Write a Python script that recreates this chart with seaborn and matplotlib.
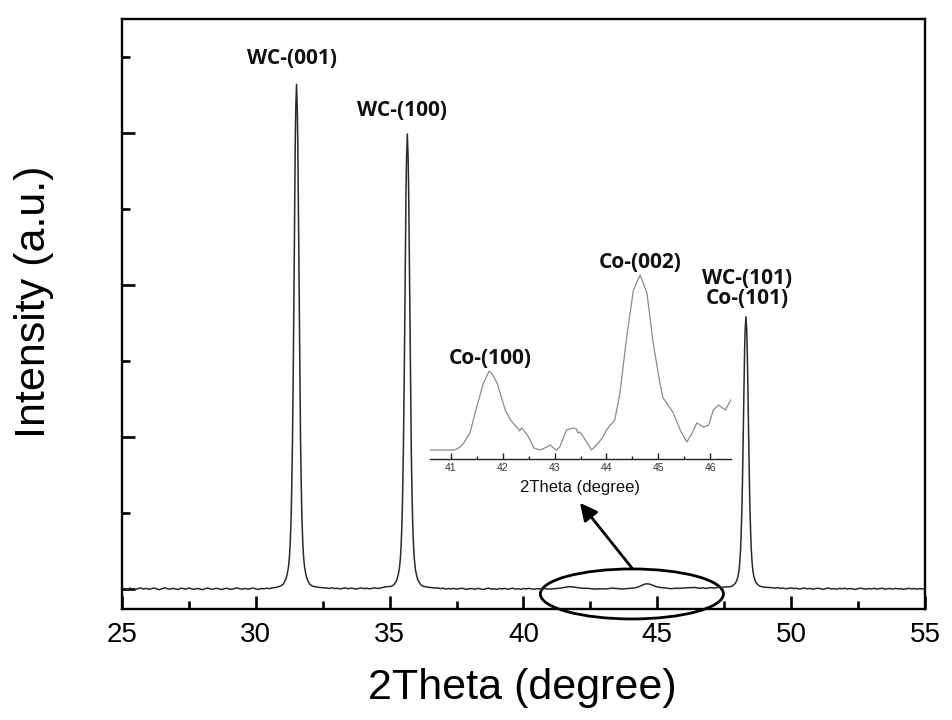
"""XRD pattern of a WC-Co sample with an inset zoom on the Co peaks."""
import numpy as np
import pandas as pd
import matplotlib
matplotlib.use("Agg")
import matplotlib.pyplot as plt
from matplotlib.patches import Ellipse
import seaborn as sns

# --- main scan (2theta in degree, intensity in a.u.) ---
base_a = [-6, 3, -2, 5, 0, -4, 2, 7, -1, 4, -3, 1, 6, 0, -5, 2, 8, 1, -2, 4,
          0, -4, 5, 2, -1, 7, 1, -3, 3, 0, -5, 1, 6, 0, -2, 4, 2, -4, 0, 5,
          -1, -3, 3, 7, 1, -2, 4, -2, 2, 6, 0, -3, 3, 1, 5, 2, 6, 9, 12]
peak1_x = [30.90, 31.02, 31.12, 31.17, 31.22, 31.26, 31.29, 31.32, 31.34, 31.37,
           31.39, 31.42, 31.44, 31.47, 31.49, 31.52, 31.55, 31.57, 31.60, 31.62,
           31.65, 31.67, 31.70, 31.72, 31.75, 31.78, 31.82, 31.87, 31.92, 32.02,
           32.12, 32.30, 32.50]
peak1_y = [18, 30, 62, 95, 145, 220, 322, 480, 650, 980,
           1300, 1850, 2300, 2900, 3150, 3320, 3150, 2900, 2300, 1850,
           1300, 980, 650, 480, 322, 220, 145, 95, 62, 30,
           18, 12, 8]
base_b = [6, 3, 8, 2, 5, 0, 4, 7, 1, 5, 3, -1, 4, 6, 2, 5, 1, 4, 7, 3, 6, 10, 14]
peak2_x = [35.06, 35.16, 35.26, 35.31, 35.36, 35.40, 35.43, 35.46, 35.48, 35.51,
           35.53, 35.56, 35.58, 35.61, 35.63, 35.66, 35.69, 35.71, 35.74, 35.76,
           35.79, 35.81, 35.84, 35.86, 35.89, 35.92, 35.96, 36.01, 36.06, 36.16,
           36.26, 36.45, 36.65]
peak2_y = [17, 28, 56, 86, 130, 200, 290, 435, 585, 885,
           1170, 1670, 2075, 2615, 2840, 2993, 2840, 2615, 2075, 1670,
           1170, 885, 585, 435, 290, 200, 130, 86, 56, 28,
           17, 11, 7]
base_c = [6, 2, 5, -1, 3, 0, 4, -2, 2, 5, 0, -3, 3, 1, -2, 4, 0, -4, 2, 5,
          -1, 1, -3, 3, 0, 4, -2, 1, 5, -1, 2, -3, 3, 0, 4, 1, -2, 2,
          1, -2, 2, 0, -1, 1, 2, 4, 6, 9, 12, 15, 14, 12, 9, 7, 5, 4, 4, 2,
          0, -1, 1, 0, 1, 0, 3, 5, 4, 3, 1, -1, 1, 3, 4, 6, 9, 14, 22, 30,
          34, 32, 26, 19, 13, 10, 8, 7, 4, 2, 3, 5, 4, 5, 6, 8, 8, 9, 10,
          7, 4, 8, 3, 6, 9, 5, 8, 11, 9, 13]
peak3_x = [47.71, 47.81, 47.91, 47.96, 48.01, 48.05, 48.08, 48.11, 48.13, 48.16,
           48.18, 48.21, 48.23, 48.26, 48.28, 48.31, 48.34, 48.36, 48.39, 48.41,
           48.44, 48.46, 48.49, 48.51, 48.54, 48.57, 48.61, 48.66, 48.71, 48.81,
           48.91, 49.10]
peak3_y = [14, 20, 36, 52, 80, 120, 175, 260, 350, 530,
           700, 1000, 1240, 1565, 1700, 1791, 1700, 1565, 1240, 1000,
           700, 530, 350, 260, 175, 120, 80, 52, 36, 20,
           14, 10]
base_d = [8, 5, 9, 3, 6, 1, 4, 7, 2, 5, -1, 3, 6, 0, 4, -2, 2, 5, 1, -3,
          3, 6, 0, 2, -2, 4, 1, 5, -1, 3, 0, -3, 2, 5, 1, -2, 3, 0, 4, -1,
          2, 5, -2, 1, 3, -1, 4, 0, 2, -3, 1, 4, 0, 3, -2, 2, 0, 3]

# --- inset, Co region enlarged ---
inset_x = [40.60, 40.80, 41.00, 41.08, 41.18, 41.25, 41.37, 41.50, 41.63, 41.74,
           41.80, 41.86, 41.90, 41.95, 42.05, 42.15, 42.27, 42.33, 42.36, 42.40,
           42.50, 42.60, 42.72, 42.85, 42.92, 42.98, 43.04, 43.10, 43.23, 43.36,
           43.42, 43.45, 43.49, 43.62, 43.71, 43.81, 43.92, 44.00, 44.16, 44.26,
           44.39, 44.52, 44.65, 44.78, 44.90, 45.03, 45.09, 45.12, 45.16, 45.29,
           45.42, 45.55, 45.65, 45.74, 45.87, 45.97, 46.06, 46.16, 46.29, 46.42]
inset_y = [0, 0, 0, 0, 3, 7, 17, 43, 67, 79,
           76, 70, 66, 57, 40, 30, 23, 19, 22, 20,
           13, 2, 0, 3, 5, 2, 0, 3, 20, 22,
           21, 17, 18, 8, 0, 5, 12, 20, 30, 57,
           113, 160, 175, 157, 107, 67, 52, 50, 47, 37,
           20, 8, 17, 27, 23, 25, 40, 45, 40, 52]

peak_labels = ["WC-(001)", "WC-(100)", "WC-(101)\nCo-(101)"]
peak_label_pos = [(31.35, 3493), (35.46, 3145), (48.35, 1977)]
inset_labels = ["Co-(100)", "Co-(002)"]
inset_label_pos = [(41.76, 92), (44.65, 187)]

scan = pd.DataFrame({
    "two_theta": np.concatenate([
        np.linspace(25.0, 30.8, len(base_a)), peak1_x,
        np.linspace(32.65, 34.85, len(base_b)), peak2_x,
        np.linspace(36.8, 47.5, len(base_c)), peak3_x,
        np.linspace(49.3, 55.0, len(base_d))]),
    "intensity": np.concatenate([base_a, peak1_y, base_b, peak2_y,
                                 base_c, peak3_y, base_d]),
})
inset = pd.DataFrame({"two_theta": inset_x, "intensity": inset_y})

sns.set_style("white")
plt.rcParams["font.family"] = ["Liberation Sans", "DejaVu Sans"]
plt.rcParams["text.color"] = "black"
plt.rcParams["axes.labelcolor"] = "black"

W, H = 952, 720
fig = plt.figure(figsize=(W / 100, H / 100), dpi=100)
ax = fig.add_axes([122 / W, (H - 609) / H, (925 - 122) / W, (609 - 19) / H])

sns.lineplot(data=scan, x="two_theta", y="intensity", ax=ax, color="#2a2a2a",
             linewidth=1.1, estimator=None, sort=False)
ax.set_xlim(25, 55)
ax.set_ylim(-132, 3750)
ax.set_xticks(np.arange(25, 56, 5))
ax.set_xticks(np.arange(27.5, 55, 5), minor=True)
ax.set_yticks(np.arange(0, 3001, 1000))
ax.set_yticks(np.arange(500, 3600, 1000), minor=True)
ax.set_yticklabels([])
ax.tick_params(which="both", direction="in", width=1.9, color="black",
               bottom=True, left=True, top=False, right=False,
               labelcolor="black")
ax.tick_params(which="major", length=9.5, labelsize=20, pad=9)
ax.tick_params(which="minor", length=5.5)
for sp in ax.spines.values():
    sp.set_color("black")
    sp.set_linewidth(1.7)

ax.set_xlabel("2Theta (degree)", fontsize=31)
ax.set_ylabel("Intensity (a.u.)", fontsize=31)
ax.xaxis.set_label_coords(0.498, -0.1)
ax.yaxis.set_label_coords(-0.085, 0.521)

bold = dict(family=["Open Sans", "DejaVu Sans"], weight="bold", fontsize=15,
            ha="center", va="center", color="#111111")
for txt, (x, y) in zip(peak_labels, peak_label_pos):
    ax.text(x, y, txt, linespacing=0.95, **bold)

ax.add_patch(Ellipse((44.05, -33), 6.84, 329, fill=False, lw=2.0,
                     ec="black", clip_on=False))
ax.annotate("", xy=(42.11, 566), xytext=(44.05, 138),
            arrowprops=dict(arrowstyle="-|>", color="black", lw=2,
                            mutation_scale=26, shrinkA=0, shrinkB=0))

# inset
axi = fig.add_axes([430 / W, (H - 459) / H, (731 - 430) / W, 199 / H])
axi.patch.set_alpha(0)
sns.lineplot(data=inset, x="two_theta", y="intensity", ax=axi, color="#8a8a8a",
             linewidth=0.9, estimator=None, sort=False)
axi.set_xlim(40.6, 46.4)
axi.set_ylim(-9, 190)
axi.set_xticks(np.arange(41, 47, 1))
axi.set_xticks(np.arange(41.5, 46.5, 1), minor=True)
axi.set_yticks([])
axi.set_ylabel("")
for side in ("top", "left", "right"):
    axi.spines[side].set_visible(False)
axi.spines["bottom"].set_color("#222222")
axi.spines["bottom"].set_linewidth(1.0)
axi.tick_params(which="both", direction="in", color="#222222", width=1.0,
                bottom=True, left=False)
axi.tick_params(which="major", length=4, labelsize=7.5, pad=3, labelcolor="#333333")
axi.tick_params(which="minor", length=2.5)
axi.set_xlabel("2Theta (degree)", fontsize=12, labelpad=5, color="#111111")
for txt, (x, y) in zip(inset_labels, inset_label_pos):
    axi.text(x, y, txt, **bold)

fig.savefig("out.png", dpi=100)
